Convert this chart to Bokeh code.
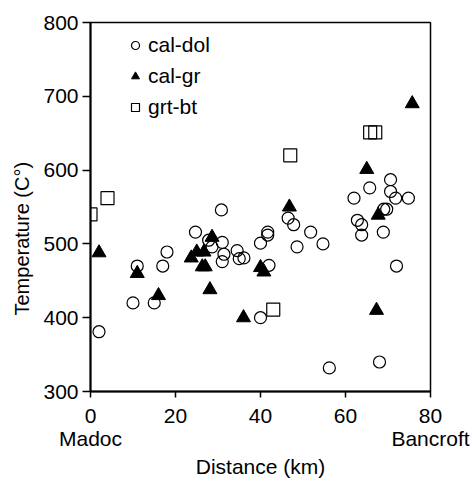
from bokeh.plotting import figure
from bokeh.models import (Range1d, LinearAxis, FixedTicker, Legend, LegendItem, Title)
from bokeh.embed import file_html
from bokeh.resources import INLINE

# ---- data ----
caldol_x = [2, 10, 11, 15, 17, 18, 24.7, 27.8, 28.6, 30.8, 31, 31.4, 31, 34.5, 35, 36.1, 40, 40, 41.7, 41.7,
            42, 46.5, 47.8, 48.6, 51.8, 54.7, 56.2, 62, 62.8, 63.8, 63.8, 65.7, 68, 68.9, 69, 69.7, 70.6, 70.6,
            71.8, 72, 74.8]
caldol_y = [381, 420, 470, 420, 470, 489, 516, 505, 496, 546, 502, 486, 476, 491, 480, 481, 501, 400, 516, 512,
            471, 535, 526, 496, 516, 500, 332, 562, 532, 526, 512, 576, 340, 516, 547, 547, 587, 571,
            562, 470, 562]
calgr_x = [2, 11, 16, 23.7, 25, 26.7, 26.3, 27, 28.6, 28.1, 36, 40, 40.8, 46.8, 65, 67.7, 67.3, 75.7]
calgr_y = [488, 460, 430, 481, 489, 489, 469, 469, 509, 438, 400, 468, 462, 550, 601, 539, 410, 690]
grtbt_x = [0, 4, 43, 47, 65.8, 67]
grtbt_y = [540, 562, 411, 620, 651, 651]

x_ticks = [0, 20, 40, 60, 80]
y_ticks = [300, 400, 500, 600, 700, 800]
end_labels = {0: "Madoc", 80: "Bancroft"}

FONT = "Liberation Sans"
FS = "21px"

p = figure(width=473, height=482, x_range=Range1d(0, 80), y_range=Range1d(300, 800),
           output_backend="svg", toolbar_location=None,
           min_border_left=90, min_border_right=43, min_border_top=22, min_border_bottom=91)
p.grid.visible = False
p.outline_line_color = "black"
p.outline_line_width = 1.5
p.background_fill_color = "white"
p.border_fill_color = "white"

r1 = p.scatter(caldol_x, caldol_y, marker="circle", size=12, fill_color=None,
               line_color="black", line_width=1.2)
r2 = p.scatter(calgr_x, calgr_y, marker="triangle", size=14, fill_color="black",
               line_color="black", line_width=1)
r3 = p.scatter(grtbt_x, grtbt_y, marker="square", size=13, fill_color=None,
               line_color="black", line_width=1.2)

# axes
xa = p.xaxis[0]
xa.ticker = FixedTicker(ticks=x_ticks)
ya = p.yaxis[0]
ya.ticker = FixedTicker(ticks=y_ticks)
for ax in (xa, ya):
    ax.axis_line_width = 2
    ax.major_tick_line_width = 1.5
    ax.major_tick_in = 0
    ax.minor_tick_line_color = None
    ax.major_label_text_font = FONT
    ax.major_label_text_font_size = FS
    ax.major_label_text_color = "black"
xa.major_tick_out = 6
xa.major_label_standoff = 11
ya.major_tick_out = 8
ya.major_label_standoff = 4

xa2 = LinearAxis(ticker=FixedTicker(ticks=[0, 80]), major_label_overrides=end_labels,
                 axis_line_color=None, major_tick_line_color=None, minor_tick_line_color=None,
                 major_tick_out=0, major_tick_in=0,
                 major_label_text_font=FONT, major_label_text_font_size=FS,
                 major_label_text_color="black",
                 major_label_standoff=1,
                 axis_label="Distance (km)", axis_label_text_font=FONT,
                 axis_label_text_font_size=FS, axis_label_text_font_style="normal",
                 axis_label_text_color="black",
                 axis_label_standoff=2)
p.add_layout(xa2, "below")

ytitle = Title(text="Temperature (C°)", align="left", offset=76,
               text_font=FONT, text_font_size="20px", text_font_style="normal",
               text_color="black", standoff=16)
p.add_layout(ytitle, "left")

legend = Legend(items=[LegendItem(label="cal-dol", renderers=[r1]),
                       LegendItem(label="cal-gr", renderers=[r2]),
                       LegendItem(label="grt-bt", renderers=[r3])],
                location=(35, 272), border_line_color=None, background_fill_alpha=0,
                label_text_font=FONT, label_text_font_size=FS, label_text_color="black",
                glyph_width=20, glyph_height=20, label_height=20, spacing=7,
                padding=0, margin=0, label_standoff=3)
p.add_layout(legend)

open("out.html", "w").write(file_html(p, INLINE))
